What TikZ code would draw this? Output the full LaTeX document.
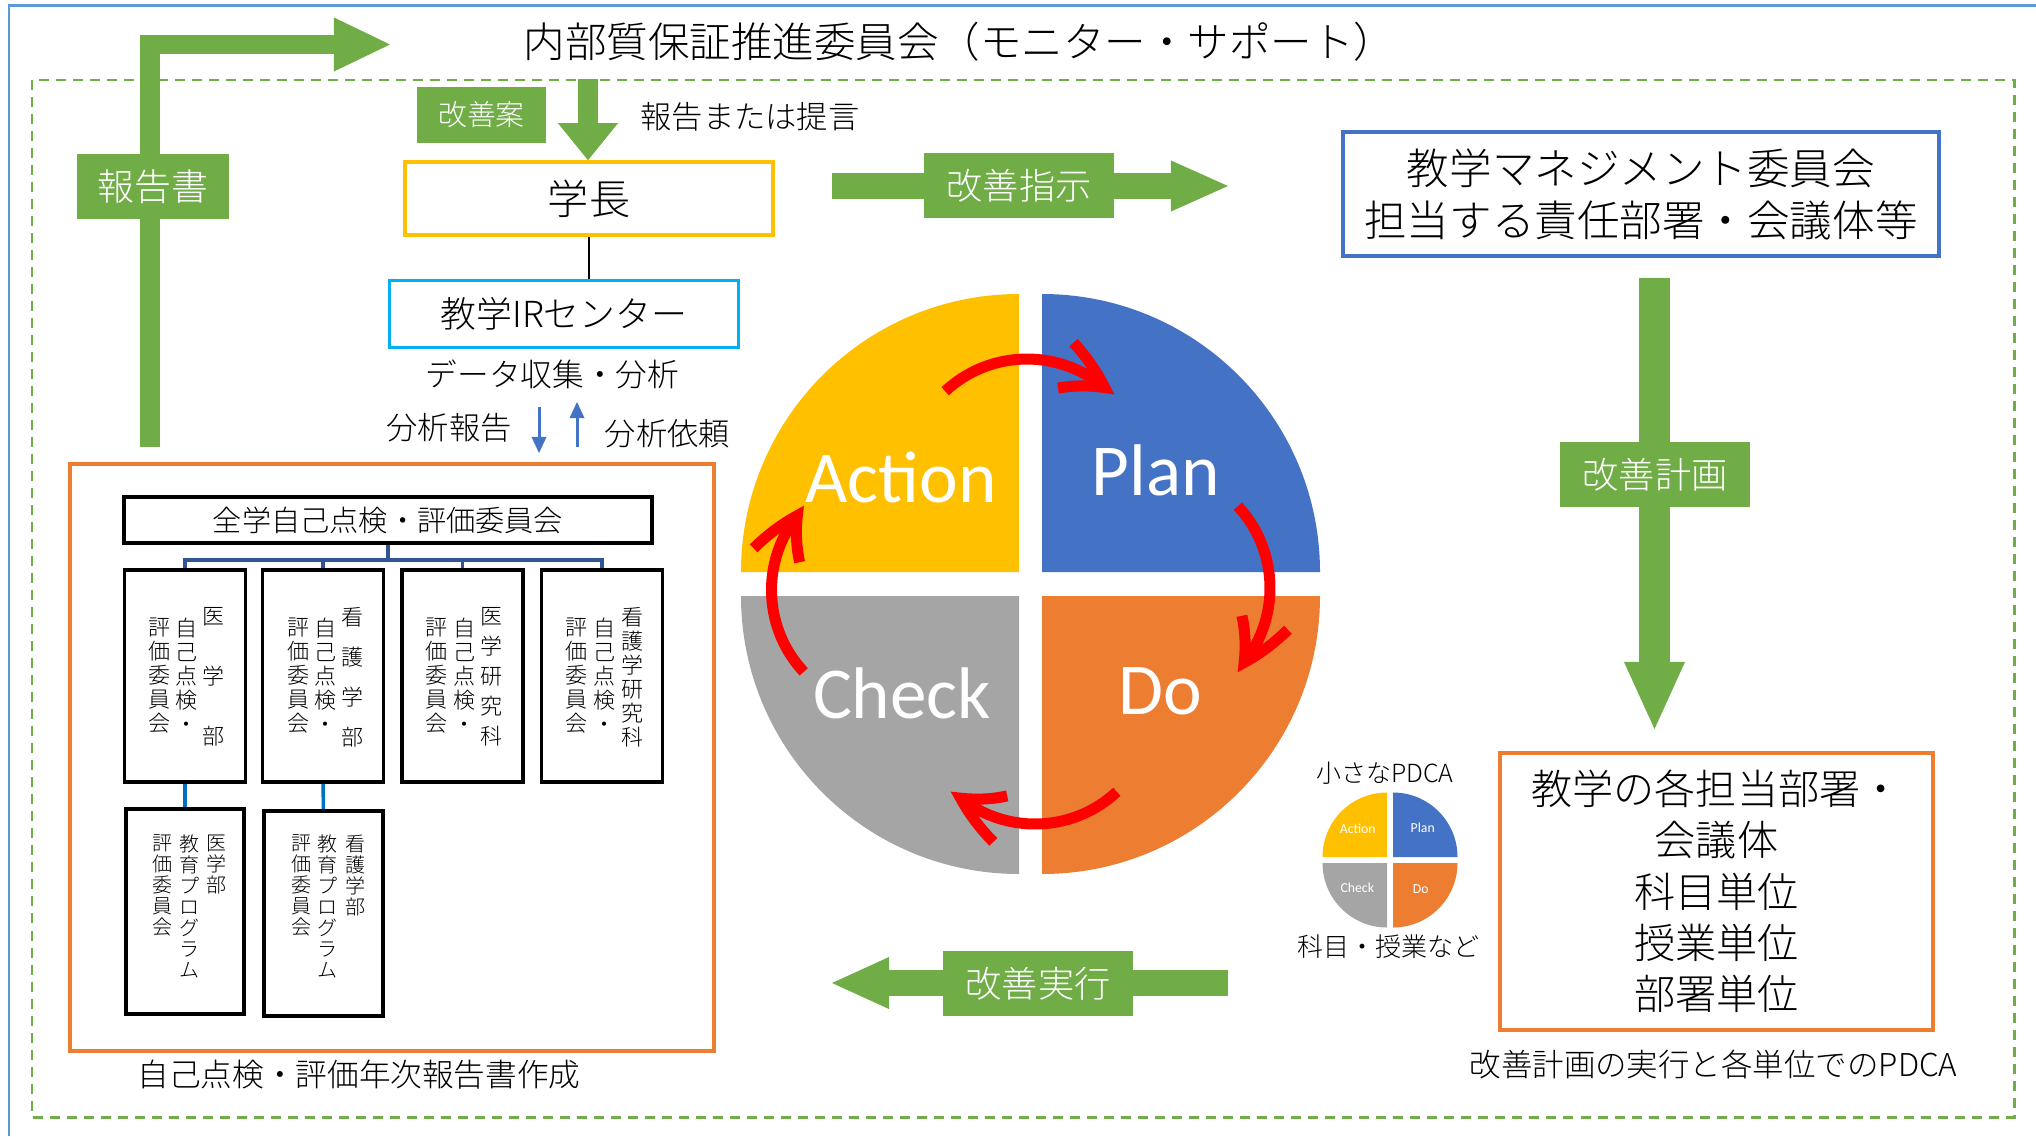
\documentclass[tikz,border=0pt]{standalone}
\usepackage{fontspec}
\setmainfont{Carlito}
\newfontfamily\jp{Noto Sans CJK JP Light}
\usepackage{xcolor}
\usetikzlibrary{arrows.meta,bending,positioning}

\definecolor{pdgreen}{HTML}{70AD47}
\definecolor{pdyellow}{HTML}{FFC000}
\definecolor{pdblue}{HTML}{4472C4}
\definecolor{pdorange}{HTML}{ED7D31}
\definecolor{pdgrey}{HTML}{A5A5A5}
\definecolor{ircyan}{HTML}{00B0F0}
\definecolor{frameblue}{HTML}{5B9BD5}
\definecolor{treeblue}{HTML}{2F5597}
\definecolor{subblue}{HTML}{0070C0}

\newcommand{\jpsize}[2]{\jp\fontsize{#1}{#2}\selectfont\lineskiplimit=-20pt}
\newcommand{\pdcapie}[5]{%
  \foreach \qx/\qy/\qcol/\qa in {-#4/-#5/pdyellow/180, #4/-#5/pdblue/270, #4/#5/pdorange/0, -#4/#5/pdgrey/90}
    \fill[\qcol] ([shift={(\qx,\qy)}]#1) -- ++(\qa:#2) arc[start angle=\qa, end angle=\qa+90, radius=#2] -- cycle;
  \coordinate (#3) at (#1);}

\begin{document}
\begin{tikzpicture}[
    x=0.01cm, y=-0.01cm,
    jptext/.style={inner sep=0pt, font=\jpsize{#1}{#1}},
    labelbox/.style={fill=pdgreen, text=white, inner sep=0pt, minimum width=19mm, minimum height=6.5mm},
    colbox/.style={draw, line width=1pt, inner sep=0pt, minimum width=12.1mm, minimum height=21.2mm},
    vcol/.style={inner sep=0pt, anchor=north, align=center, font=\jpsize{6.26pt}{#1}},
    vcol/.default=6.83pt,
    vsub/.style={inner sep=0pt, anchor=north, align=center, font=\jpsize{5.69pt}{5.97pt}},
    fatarrow/.style n args={3}{draw=pdgreen, line width=#1, -{Triangle[length=#2, width=#3, line width=0pt]}},
    cyclearrow/.style={draw=red, line width=1.1mm, -{Straight Barb[length=4.6mm, width=4.8mm, bend]}},
    irarrow/.style={draw=pdblue, line width=0.85pt, -{Triangle[length=1.6mm, width=1.5mm, line width=0pt]}},
    treeline/.style={draw=treeblue, line width=1pt},
    subline/.style={draw=subblue, line width=1pt},
    bigpd/.style={text=white, inner sep=0pt, font=\fontsize{20.8pt}{24pt}\selectfont},
    smallpd/.style={text=white, inner sep=0pt, font=\fontsize{3.9pt}{4.5pt}\selectfont}
  ]

  \useasboundingbox (0,0) rectangle (2036,1136);
  \draw[frameblue, line width=0.85pt] (9,1136) -- (9,5.5) -- (2036,5.5);
  \draw[pdgreen, line width=0.85pt, dash pattern=on 1mm off 0.7mm] (32,80) rectangle (2014,1117);

  \node[jptext=11.8pt] (title) at (959.5,41.5) {内部質保証推進委員会（モニター・サポート）};

  \node[draw=pdyellow, line width=1pt, minimum width=36.8mm, minimum height=7.3mm, jptext=11.7pt] (gakucho) at (589,198.5) {学長};
  \node[draw=ircyan, line width=0.85pt, minimum width=34.8mm, minimum height=6.6mm, jptext=10.2pt] (ir) at (564,314) {教学IRセンター};
  \draw[line width=0.4pt] (gakucho.south) -- (gakucho.south |- ir.north);
  \node[jptext=9pt] (collect) at (552.5,374) {データ収集・分析};
  \node[jptext=8.9pt] (anrep) at (449,428) {分析報告};
  \node[jptext=8.9pt] (anask) at (667.5,434) {分析依頼};
  \coordinate (rep0) at (539,407);
  \coordinate (rep1) at (539,453);
  \coordinate (ask0) at (577,447);
  \coordinate (ask1) at (577,402);
  \draw[irarrow] (rep0) -- (rep1);
  \draw[irarrow] (ask0) -- (ask1);

  \node[draw=pdorange, line width=1.15pt, minimum width=64.4mm, minimum height=58.7mm] (selfeval) at (392,757.5) {};
  \node[draw, line width=1pt, minimum width=52.8mm, minimum height=4.6mm, jptext=8.3pt] (zengaku) at (388,520) {全学自己点検・評価委員会};
  \foreach \n/\x in {1/185,2/323,3/462.5,4/602}
    \node[colbox] (b\n) at (\x,676) {};
  \node[colbox, minimum width=11.8mm, minimum height=20.5mm] (b5) at (185,911.5) {};
  \node[colbox, minimum width=11.9mm, minimum height=20.5mm] (b6) at (323.5,913.5) {};

  \node[vcol] (b1l) at (159.5,617) {評\\価\\委\\員\\会};
  \node[vcol] (b1m) at (187,617) {自\\己\\点\\検\\・};
  \node[vcol=17.07pt] (b1r) at (214,607) {医\\学\\部};
  \node[vcol] (b2l) at (298.5,617) {評\\価\\委\\員\\会};
  \node[vcol] (b2m) at (325.5,617) {自\\己\\点\\検\\・};
  \node[vcol=11.38pt] (b2r) at (353,607) {看\\護\\学\\部};
  \node[vcol] (b3l) at (437,617) {評\\価\\委\\員\\会};
  \node[vcol] (b3m) at (464.5,617) {自\\己\\点\\検\\・};
  \node[vcol=8.54pt] (b3r) at (492,607) {医\\学\\研\\究\\科};
  \node[vcol] (b4l) at (577,617) {評\\価\\委\\員\\会};
  \node[vcol] (b4m) at (604.5,617) {自\\己\\点\\検\\・};
  \node[vcol] (b4r) at (632,607) {看\\護\\学\\研\\究\\科};
  \node[vsub] (b5l) at (162.5,834) {評\\価\\委\\員\\会};
  \node[vsub] (b5m) at (189.5,834) {教\\育\\プ\\ロ\\グ\\ラ\\ム};
  \node[vsub] (b5r) at (216.5,834) {医\\学\\部};
  \node[vsub] (b6l) at (301.5,834) {評\\価\\委\\員\\会};
  \node[vsub] (b6m) at (327.5,834) {教\\育\\プ\\ロ\\グ\\ラ\\ム};
  \node[vsub] (b6r) at (355.5,834) {看\\護\\学\\部};

  \coordinate (bus) at (388,560);
  \draw[treeline] (zengaku.south) -- (bus);
  \foreach \n in {1,...,4}
    \draw[treeline] (b\n.north) |- (bus);
  \draw[subline] (b1.south) -- (b5.north);
  \draw[subline] (b2.south) -- (b6.north);
  \node[jptext=9pt] (annual) at (359,1075) {自己点検・評価年次報告書作成};

  \coordinate (repfoot) at (150,447);
  \coordinate (reptip) at (390,44.5);
  \draw[fatarrow={1.95mm}{5.6mm}{5.4mm}, line join=miter] (repfoot) |- (reptip);
  \node[labelbox, minimum width=15.2mm, jptext=10.5pt] (houkoku) at (153,186.5) {報告書};

  \coordinate (advtop) at (588,79);
  \draw[fatarrow={2mm}{3.7mm}{6mm}] (advtop) -- (advtop |- gakucho.north);
  \node[labelbox, minimum width=12.9mm, minimum height=5.6mm, jptext=8.2pt] (kaizenan) at (481.5,115) {改善案};
  \node[jptext=8.9pt] (teigen) at (750,117) {報告または提言};

  \node[draw=pdblue, line width=1.15pt, minimum width=59.6mm, minimum height=12.4mm, align=center, inner sep=0pt, font=\jpsize{12.1pt}{14.8pt}] (mgmt) at (1641,194) {教学マネジメント委員会\\担当する責任部署・会議体等};
  \node[draw=pdorange, line width=1.15pt, minimum width=43.3mm, minimum height=27.7mm, align=center, inner sep=0pt, font=\jpsize{11.7pt}{14.6pt}] (units) at (1716.5,891.5) {教学の各担当部署・\\会議体\\科目単位\\授業単位\\部署単位};
  \node[jptext=8.95pt] (unitpdca) at (1713.5,1065) {改善計画の実行と各単位でのPDCA};

  \coordinate (instr0) at (832,186);
  \coordinate (instr1) at (1228,186);
  \draw[fatarrow={2.6mm}{5.7mm}{5.1mm}] (instr0) -- (instr1);
  \node[labelbox, jptext=10.3pt] (shiji) at (1019,185.5) {改善指示};

  \coordinate (plan0) at (1654.5,278);
  \coordinate (plan1) at (1654.5,729);
  \draw[fatarrow={3.1mm}{6.7mm}{6.1mm}] (plan0) -- (plan1);
  \node[labelbox, jptext=10.3pt] (keikaku) at (1655,474.5) {改善計画};

  \coordinate (exec0) at (1228,983);
  \coordinate (exec1) at (832,983);
  \draw[fatarrow={2.6mm}{5.7mm}{5.2mm}] (exec0) -- (exec1);
  \node[labelbox, jptext=10.3pt] (jikkou) at (1038,983.5) {改善実行};

  \pdcapie{1030.5,584}{278}{bigpie}{11.5}{12}
  \node[bigpd] (act) at (901,477) {Action};
  \node[bigpd] (plan) at (1156,470) {Plan};
  \node[bigpd] (chk) at (902,693) {Check};
  \node[bigpd] (do) at (1160,691) {Do};

  \coordinate (ctop) at (1027,479);
  \coordinate (cright) at (1150,588);
  \coordinate (cbottom) at (1035,704);
  \coordinate (cleft) at (891.5,590);
  \draw[cyclearrow] ([shift={(-133:120)}]ctop) arc[start angle=-133, end angle=-44, radius=120];
  \draw[cyclearrow] ([shift={(-43:120)}]cright) arc[start angle=-43, end angle=44, radius=120];
  \draw[cyclearrow] ([shift={(47:120)}]cbottom) arc[start angle=47, end angle=134, radius=120];
  \draw[cyclearrow] ([shift={(137:120)}]cleft) arc[start angle=137, end angle=224, radius=120];

  \pdcapie{1390,860}{64.5}{smallpie}{3}{3}
  \node[smallpd] (sact) at (1357.7,829) {Action};
  \node[smallpd] (splan) at (1422.7,827.3) {Plan};
  \node[smallpd] (schk) at (1357.3,887.3) {Check};
  \node[smallpd] (sdo) at (1420.7,889) {Do};
  \node[jptext=7.1pt] (smalltitle) at (1385,773) {小さなPDCA};
  \node[jptext=7.4pt] (smallnote) at (1388.5,947) {科目・授業など};

\end{tikzpicture}
\end{document}
